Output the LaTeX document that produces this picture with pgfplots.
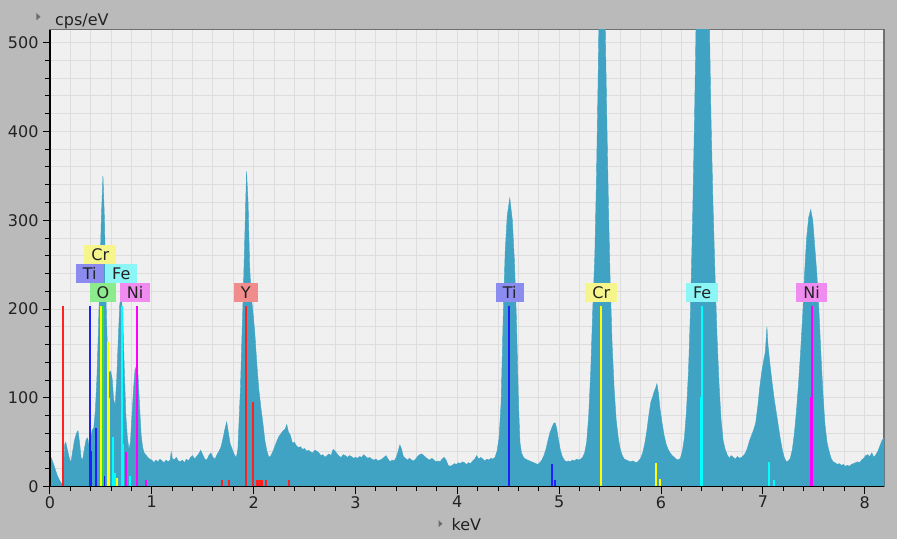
\documentclass[border=0pt]{standalone}
\usepackage{pgfplots}
\pgfplotsset{compat=1.18}
\usepackage{fontspec}
\setmainfont{DejaVu Sans}

\definecolor{outerbg}{HTML}{BABABA}
\definecolor{plotbg}{HTML}{F0F0F0}
\definecolor{gridc}{HTML}{DDDDDD}
\definecolor{framec}{HTML}{707070}
\definecolor{spec}{HTML}{41A3C4}
\definecolor{txt}{HTML}{222222}
\definecolor{lred}{HTML}{FF2020}
\definecolor{lblue}{HTML}{2020FF}
\definecolor{lyel}{HTML}{FFFF00}
\definecolor{lgreen}{HTML}{33DD33}
\definecolor{lcyan}{HTML}{00FFFF}
\definecolor{lmag}{HTML}{FF00FF}
\definecolor{bTi}{HTML}{8C8CF0}
\definecolor{bCr}{HTML}{F5F58C}
\definecolor{bFe}{HTML}{8CF5F5}
\definecolor{bO}{HTML}{8CEB8C}
\definecolor{bNi}{HTML}{F08CF0}
\definecolor{bY}{HTML}{F08C8C}

\pgfplotstableread{
x y
0.00 34
0.01 33
0.03 27
0.05 20
0.07 13
0.09 8
0.11 4
0.125 3
0.135 20
0.145 48
0.155 50
0.17 42
0.19 32
0.205 27
0.22 38
0.24 52
0.26 60
0.275 63
0.29 50
0.305 33
0.32 30
0.34 44
0.355 53
0.37 55
0.385 44
0.40 55
0.415 64
0.43 66
0.445 85
0.46 120
0.475 175
0.49 240
0.505 305
0.52 350
0.535 300
0.55 210
0.565 150
0.58 128
0.595 130
0.61 122
0.625 98
0.64 92
0.655 120
0.67 165
0.685 205
0.70 216
0.715 190
0.73 130
0.745 80
0.76 55
0.775 42
0.79 50
0.805 80
0.82 110
0.835 132
0.85 136
0.865 125
0.88 90
0.895 58
0.91 44
0.925 38
0.94 36
0.96 33
0.98 31
1.00 30
1.02 27
1.04 30
1.06 28
1.08 31
1.10 29
1.12 27
1.14 30
1.16 28
1.18 30
1.19 39
1.20 32
1.22 30
1.24 33
1.26 29
1.28 28
1.30 30
1.32 27
1.34 31
1.36 29
1.38 33
1.40 35
1.42 31
1.44 34
1.46 37
1.48 41
1.50 36
1.52 31
1.54 30
1.56 35
1.58 38
1.60 33
1.62 31
1.64 36
1.66 40
1.68 45
1.70 55
1.72 66
1.735 73
1.75 62
1.77 48
1.79 42
1.81 36
1.83 33
1.845 42
1.855 70
1.87 110
1.885 170
1.90 225
1.915 290
1.93 355
1.945 320
1.96 250
1.975 215
1.99 200
2.01 175
2.03 140
2.05 110
2.07 90
2.09 72
2.11 52
2.13 40
2.15 33
2.17 35
2.19 40
2.21 46
2.23 52
2.25 57
2.27 60
2.29 63
2.31 65
2.325 70
2.34 62
2.36 58
2.38 49
2.40 50
2.42 46
2.44 44
2.46 45
2.48 42
2.50 43
2.52 40
2.54 41
2.56 39
2.58 38
2.60 41
2.62 40
2.64 38
2.66 35
2.68 36
2.70 33
2.72 35
2.74 37
2.76 35
2.78 42
2.80 40
2.82 37
2.84 34
2.86 33
2.88 36
2.90 35
2.92 33
2.94 35
2.96 34
2.98 32
3.00 33
3.02 32
3.04 34
3.06 33
3.08 36
3.10 34
3.12 32
3.14 33
3.16 31
3.18 30
3.20 31
3.22 29
3.24 30
3.26 31
3.28 33
3.30 35
3.32 31
3.34 28
3.36 30
3.38 29
3.40 33
3.42 40
3.435 47
3.45 43
3.47 34
3.49 32
3.51 30
3.53 32
3.55 30
3.57 29
3.59 31
3.61 34
3.63 36
3.65 37
3.67 35
3.69 33
3.71 31
3.73 30
3.75 32
3.77 30
3.79 28
3.81 29
3.83 28
3.85 31
3.87 33
3.89 30
3.91 24
3.93 23
3.95 24
3.97 26
3.99 25
4.01 27
4.03 26
4.05 28
4.07 27
4.09 25
4.11 27
4.13 26
4.15 29
4.17 31
4.19 35
4.21 31
4.23 33
4.25 31
4.27 29
4.29 31
4.31 30
4.33 32
4.35 31
4.37 33
4.39 40
4.41 55
4.43 95
4.45 190
4.47 265
4.49 305
4.515 325
4.54 300
4.56 255
4.58 190
4.60 95
4.615 50
4.63 38
4.65 33
4.67 31
4.69 30
4.71 29
4.73 28
4.75 27
4.77 26
4.79 25
4.81 27
4.83 30
4.85 35
4.87 42
4.89 52
4.91 61
4.93 67
4.945 71
4.96 72
4.975 66
4.99 55
5.01 42
5.03 34
5.05 30
5.07 28
5.09 29
5.11 28
5.13 30
5.15 29
5.17 31
5.19 30
5.21 31
5.23 33
5.25 38
5.27 50
5.29 80
5.31 130
5.33 200
5.35 260
5.365 340
5.38 440
5.395 560
5.41 620
5.425 630
5.44 590
5.455 500
5.47 400
5.485 310
5.50 235
5.52 160
5.54 110
5.56 75
5.58 55
5.60 42
5.62 35
5.64 31
5.66 30
5.68 29
5.70 28
5.72 29
5.74 28
5.76 27
5.78 29
5.80 32
5.82 38
5.84 48
5.86 62
5.88 80
5.90 95
5.915 100
5.93 106
5.95 112
5.96 116
5.975 105
5.99 88
6.01 72
6.03 58
6.05 48
6.07 42
6.09 38
6.11 35
6.13 33
6.15 31
6.17 30
6.19 32
6.21 40
6.23 55
6.25 85
6.27 130
6.29 200
6.31 300
6.33 420
6.35 560
6.37 720
6.39 850
6.41 880
6.43 820
6.45 700
6.47 560
6.49 420
6.51 320
6.53 240
6.55 170
6.57 115
6.59 75
6.61 52
6.63 42
6.65 36
6.67 32
6.69 35
6.71 33
6.73 31
6.75 34
6.77 32
6.79 33
6.81 35
6.83 38
6.85 44
6.87 52
6.89 58
6.91 64
6.93 72
6.95 90
6.97 112
6.99 130
7.01 143
7.025 152
7.04 180
7.05 160
7.07 138
7.09 118
7.11 100
7.13 85
7.15 70
7.17 55
7.19 42
7.21 33
7.23 28
7.25 29
7.27 32
7.29 42
7.31 60
7.33 85
7.35 115
7.37 150
7.39 190
7.41 240
7.43 280
7.45 303
7.47 312
7.49 300
7.51 270
7.53 240
7.55 200
7.57 150
7.59 105
7.61 70
7.63 50
7.65 40
7.67 32
7.69 28
7.71 27
7.73 25
7.75 26
7.77 24
7.79 25
7.81 23
7.83 24
7.85 23
7.87 25
7.89 26
7.91 27
7.93 28
7.95 27
7.97 30
7.99 32
8.01 35
8.03 36
8.05 34
8.07 38
8.09 33
8.11 36
8.13 40
8.15 46
8.17 52
8.19 55
}\spectrum

\begin{document}
\begin{tikzpicture}[x=1bp, y=1bp, font=\fontsize{16bp}{19bp}\selectfont]
% grey panel behind everything
\fill[outerbg] (-50,-52.3) rectangle (847,486.7);

\begin{axis}[
    at={(0,0)}, anchor=south west,
    scale only axis, width=834bp, height=457bp,
    xmin=0, xmax=8.19, ymin=0, ymax=514.6,
    xtick={0,...,8}, ytick={0,100,...,500},
    minor x tick num=4, minor y tick num=4,
    grid=both,
    major grid style={gridc, line width=1bp},
    minor grid style={gridc, line width=1bp},
    axis background/.style={fill=plotbg},
    axis line style={draw=framec, line width=1.5bp},
    xtick pos=left, ytick pos=left,
    tick align=outside,
    major tick length=7bp, minor tick length=4.5bp,
    every tick/.style={black, line width=1bp},
    /pgf/number format/assume math mode=true,
    ticklabel style={font=\fontsize{16bp}{19bp}\selectfont, text=txt},
    xticklabel style={yshift=1bp},
    yticklabel style={xshift=-1bp},
    every node/.append style={text=txt},
]
\addplot[fill=spec, draw=spec, line width=0.4bp] table {\spectrum} \closedcycle;

% element line markers
\addplot[ycomb, no markers, lred, line width=2bp] coordinates {
(0.13,204) (1.922,204) (1.997,95) (1.687,8) (1.758,8)
(2.035,8) (2.05,8) (2.065,8) (2.08,8) (2.12,8) (2.35,8)};
\addplot[ycomb, no markers, lblue, line width=2bp] coordinates {
(0.395,204) (0.403,40) (0.452,66) (0.53,12)
(4.512,204) (4.504,101) (4.932,26) (4.96,8)};
\addplot[ycomb, no markers, lyel, line width=2bp] coordinates {
(0.50,204) (0.573,163) (0.581,100) (0.655,10)
(5.414,204) (5.406,101) (5.947,27) (5.99,9)};
\addplot[ycomb, no markers, lgreen, line width=2bp] coordinates {
(0.525,204)};
\addplot[ycomb, no markers, lcyan, line width=2bp] coordinates {
(0.615,56) (0.64,15) (0.705,204) (0.718,48) (0.79,12)
(6.404,204) (6.396,101) (7.058,28) (7.11,8)};
\addplot[ycomb, no markers, lmag, line width=2bp] coordinates {
(0.743,39) (0.751,6) (0.851,204) (0.858,55) (0.94,8)
(7.478,204) (7.470,101)};

% element tags
\tikzset{tag/.style={anchor=south, inner xsep=7bp, inner ysep=0pt,
    minimum height=19bp, text height=11.6bp, text depth=0pt,
    font=\fontsize{16bp}{19bp}\selectfont, text=txt}}
\node[tag, fill=bO]  at (axis cs:0.52,208) {O};
\node[tag, fill=bNi] at (axis cs:0.835,208) {Ni};
\node[tag, fill=bTi] at (axis cs:0.39,229.4) {Ti};
\node[tag, fill=bFe] at (axis cs:0.70,229.4) {Fe};
\node[tag, fill=bCr] at (axis cs:0.494,250.8) {Cr};
\node[tag, fill=bY]  at (axis cs:1.922,208) {Y};
\node[tag, fill=bTi] at (axis cs:4.515,208) {Ti};
\node[tag, fill=bCr] at (axis cs:5.414,208) {Cr};
\node[tag, fill=bFe] at (axis cs:6.404,208) {Fe};
\node[tag, fill=bNi] at (axis cs:7.478,208) {Ni};
\end{axis}

% dark left and bottom axis lines
\draw[black, line width=1.5bp] (0,457) -- (0,0) -- (834,0);

% axis captions with their small arrow marks
\fill[gray!85!black] (-13.5,466.5) -- (-13.5,473.5) -- (-9.5,470) -- cycle;
\node[anchor=base west, inner sep=0pt, text=txt] at (5,460.7) {cps/eV};
\fill[gray!85!black] (388.5,-40.5) -- (388.5,-33.5) -- (392.5,-37) -- cycle;
\node[anchor=base west, inner sep=0pt, text=txt] at (401.5,-44) {keV};

\pgfresetboundingbox
\useasboundingbox (-50,-52.3) rectangle (847,486.7);
\end{tikzpicture}
\end{document}
